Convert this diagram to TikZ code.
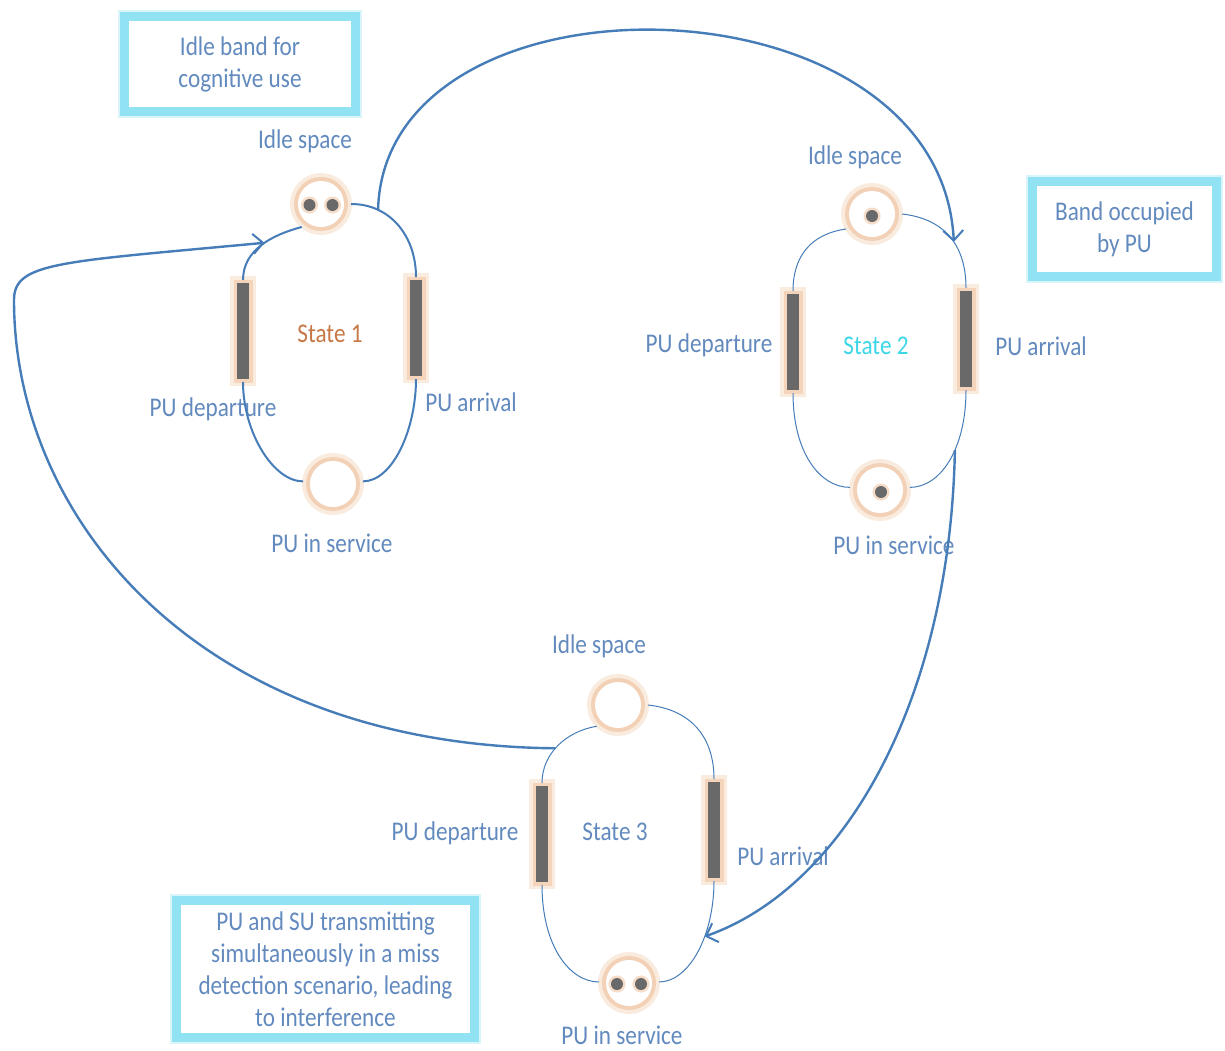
\documentclass[tikz,border=0pt]{standalone}
\usepackage{fontspec}
\setmainfont{Carlito}[FakeStretch=0.86]
\usetikzlibrary{arrows.meta}
\definecolor{txtblue}{RGB}{98,138,190}
\definecolor{arcblue}{RGB}{70,125,185}
\definecolor{peach}{RGB}{240,198,165}
\definecolor{bargray}{RGB}{105,105,105}
\definecolor{framecyan}{RGB}{145,226,242}
\definecolor{stateorange}{RGB}{200,120,70}
\definecolor{statecyan}{RGB}{60,215,230}
\tikzset{
  lbl/.style={text=txtblue, font=\fontsize{13.5pt}{16pt}\selectfont, inner sep=0pt,
    text height=9pt, text depth=3pt, align=center},
  place/.style={circle, fill=white, minimum size=23pt, inner sep=0pt, outer sep=3.5pt,
    preaction={draw=peach!35, line width=8pt},
    preaction={draw=peach!80, line width=4pt}},
  token/.style={circle, fill=bargray, minimum size=6pt, inner sep=0pt,
    preaction={draw=peach!60, line width=2.5pt}},
  trans/.style={rectangle, fill=bargray, minimum width=6pt, minimum height=48pt,
    inner sep=0pt, outer sep=1.5pt,
    preaction={draw=peach!35, line width=7pt},
    preaction={draw=peach!75, line width=3.5pt}},
  note/.style={rectangle, draw=framecyan, line width=4.5pt, fill=white, inner sep=0pt,
    text=txtblue, font=\fontsize{13.5pt}{16pt}\selectfont, align=center,
    preaction={draw=framecyan!35, line width=6.5pt}},
  loopA/.style={draw=arcblue, line width=1pt},
  loopB/.style={draw=arcblue, line width=0.5pt},
  link/.style={draw=arcblue, line width=1.2pt,
    -{Straight Barb[length=5pt,width=10pt,line width=1pt]}},
}
\begin{document}
\begin{tikzpicture}[x=0.5pt,y=-0.5pt]
\fill[white] (0,0) rectangle (1225,1050);
\useasboundingbox (0,0) rectangle (1225,1050);

% ---------- notes ----------
\node[note, minimum width=115.5pt, minimum height=47.5pt] (n1) at (240,64)
  {Idle band for\\cognitive use};
\node[note, minimum width=92pt, minimum height=47.5pt] (n2) at (1124.5,229)
  {Band occupied\\by PU};
\node[note, minimum width=149pt, minimum height=68.5pt] (n3) at (325.5,969)
  {PU and SU transmitting\\simultaneously in a miss\\detection scenario, leading\\to interference};

% ---------- state 1 ----------
\node[place] (i1) at (321,204) {};
\node[token] (i1t1) at (309.5,205) {};
\node[token] (i1t2) at (332.5,205) {};
\node[trans] (d1) at (243,331) {};
\node[trans] (a1) at (416,328) {};
\node[place] (p1) at (333,484) {};
\node[lbl] (i1l) at (305,142) {Idle space};
\node[lbl, text=stateorange] (s1l) at (330,336) {State 1};
\node[lbl] (d1l) at (213,410) {PU departure};
\node[lbl] (a1l) at (471,405) {PU arrival};
\node[lbl] (p1l) at (332,546) {PU in service};

\draw[loopA] (i1.230) .. controls +(-30,8) and +(0,-30) .. (d1.north)
  coordinate[pos=0.45] (s1in);
\draw[loopA] (i1.0) .. controls +(40,0) and +(0,-40) .. (a1.north)
  coordinate[pos=0.25] (s1out);
\draw[loopA] (d1.south) .. controls +(0,50) and +(-30,0) .. (p1.175);
\draw[loopA] (a1.south) .. controls +(0,50) and +(30,0) .. (p1.5);

% ---------- state 2 ----------
\node[place] (i2) at (872,214) {};
\node[token] (i2t) at (872,216) {};
\node[trans] (d2) at (793,342) {};
\node[trans] (a2) at (966,339) {};
\node[place] (p2) at (880,490) {};
\node[token] (p2t) at (881,492) {};
\node[lbl] (i2l) at (855,158) {Idle space};
\node[lbl, text=statecyan] (s2l) at (876,348) {State 2};
\node[lbl] (d2l) at (709,346) {PU departure};
\node[lbl] (a2l) at (1041,349) {PU arrival};
\node[lbl] (p2l) at (894,548) {PU in service};

\draw[loopB] (i2.210) .. controls +(-35,5) and +(0,-35) .. (d2.north);
\draw[loopB] (i2.0) .. controls +(45,5) and +(0,-40) .. (a2.north)
  coordinate[pos=0.55] (s2in);
\draw[loopB] (d2.south) .. controls +(0,60) and +(-30,0) .. (p2.175);
\draw[loopB] (a2.south) .. controls +(0,60) and +(30,0) .. (p2.5)
  coordinate[pos=0.4] (s2out);

% ---------- state 3 ----------
\node[place] (i3) at (618,705) {};
\node[trans] (d3) at (542,834) {};
\node[trans] (a3) at (714,830) {};
\node[place] (p3) at (629,983) {};
\node[token] (p3t1) at (617,984) {};
\node[token] (p3t2) at (641,984) {};
\node[lbl] (i3l) at (599,647) {Idle space};
\node[lbl] (s3l) at (615,834) {State 3};
\node[lbl] (d3l) at (455,834) {PU departure};
\node[lbl] (a3l) at (783,859) {PU arrival};
\node[lbl] (p3l) at (622,1038) {PU in service};

\draw[loopB] (i3.225) .. controls +(-30,5) and +(0,-30) .. (d3.north)
  coordinate[pos=0.55] (s3out);
\draw[loopB] (i3.0) .. controls +(45,5) and +(0,-40) .. (a3.north);
\draw[loopB] (d3.south) .. controls +(0,60) and +(-30,0) .. (p3.178);
\draw[loopB] (a3.south) .. controls +(0,55) and +(30,0) .. (p3.2)
  coordinate[pos=0.37] (s3in);

% ---------- transitions between states ----------
\draw[link] (s1out) .. controls (385,-40) and (940,-30) .. (s2in);
\draw[link] (s2out) .. controls (950,700) and (845,887) .. (s3in);
\draw[link] (s3out) .. controls (200,745) and (14,520) .. (14,300)
  .. controls (14,262) and (60,262) .. (s1in);
\end{tikzpicture}
\end{document}
